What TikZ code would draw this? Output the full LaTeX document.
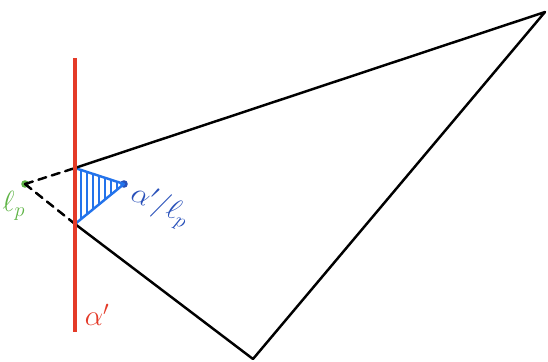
\documentclass[tikz,border=0pt]{standalone}
\usepackage{tikz}
\usetikzlibrary{positioning, calc}

\definecolor{lineRed}{RGB}{228,58,40}
\definecolor{pointGreen}{RGB}{95,180,70}
\definecolor{wedgeBlue}{RGB}{35,115,235}
\definecolor{labelBlue}{RGB}{40,80,185}

\begin{document}
\begin{tikzpicture}[
		x=0.03cm, y=-0.03cm,
		edge/.style={draw=black, line width=2.1pt, line cap=round},
		hidden/.style={edge, dash pattern=on 7pt off 5pt},
		dot/.style={circle, fill, inner sep=0pt, minimum size=6.5pt},
		lbl/.style={font=\fontsize{24}{28}\selectfont},
	]
	\useasboundingbox (0,0) rectangle (548,362);

	% corners of the big triangle and the points on the red line
	\coordinate (top) at (545,12);
	\coordinate (bottom) at (253,359);
	\coordinate (upper) at (75,168);
	\coordinate (lower) at (75,224);
	\coordinate (redtop) at (75,58);
	\coordinate (redbottom) at (75,332);

	% points
	\node[dot, pointGreen] (lp) at (25,184) {};
	\node[dot, labelBlue] (apex) at (124,184) {};

	% hatched wedge
	\begin{scope}
		\clip (upper) -- (apex.center) -- (lower) -- cycle;
		\foreach \xh in {81,87,...,123}
			\draw[wedgeBlue, line width=1.1pt] (\xh,160) -- (\xh,230);
	\end{scope}
	\draw[wedgeBlue, line width=2.1pt, line join=round] (upper) -- (apex.center) -- (lower);

	% big triangle
	\draw[edge, line join=round] (upper) -- (top) -- (bottom) -- (lower);
	\draw[hidden] (lp.center) -- (upper);
	\draw[hidden] (lp.center) -- (lower);

	% red line
	\draw[lineRed, line width=2.6pt] (redtop) -- (redbottom);

	% labels
	\node[lbl, pointGreen] (lplabel) at (14,206) {$\ell_p$};
	\node[lbl, lineRed] (alabel) at (97,315) {$\alpha'$};
	\node[lbl, labelBlue, rotate=-25] (wedgelabel) at (160,206) {$\alpha'/\ell_p$};
\end{tikzpicture}
\end{document}
